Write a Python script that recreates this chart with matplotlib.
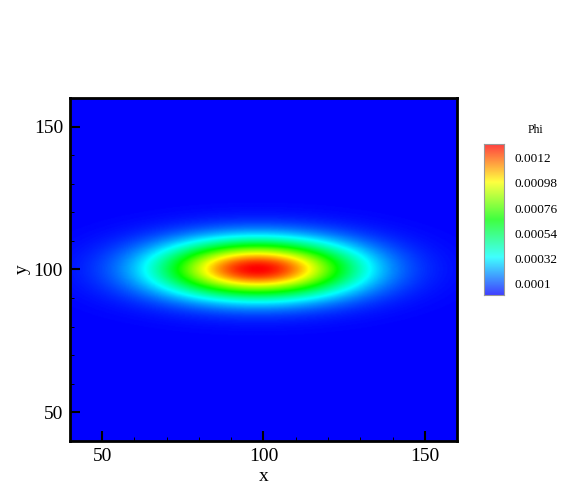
import numpy as np
import matplotlib
matplotlib.use("Agg")
import matplotlib.pyplot as plt
from matplotlib.colors import LinearSegmentedColormap, Normalize

# Field parameters
center_x = 98.0
center_y = 100.0
sigma_x = 21.0
sigma_y = 7.0
peak_phi = 0.00132
phi_min = 0.0
x_range = [40, 160]
y_range = [40, 160]
x_ticks = [50, 100, 150]
y_ticks = [50, 100, 150]
cbar_ticks = [0.0001, 0.00032, 0.00054, 0.00076, 0.00098, 0.0012]
cbar_labels = ["0.0001", "0.00032", "0.00054", "0.00076", "0.00098", "0.0012"]

plt.rcParams['font.family'] = ['Liberation Serif', 'DejaVu Serif']

cmap = LinearSegmentedColormap.from_list(
    "small_rainbow",
    [(0.0, (0, 0, 1)), (0.25, (0, 1, 1)), (0.5, (0, 1, 0)),
     (0.75, (1, 1, 0)), (1.0, (1, 0, 0))])
norm = Normalize(phi_min, peak_phi)

xg = np.linspace(x_range[0], x_range[1], 401)
yg = np.linspace(y_range[0], y_range[1], 401)
X, Y = np.meshgrid(xg, yg)
phi = peak_phi * np.exp(-((X - center_x) ** 2) / (2 * sigma_x ** 2)
                        - ((Y - center_y) ** 2) / (2 * sigma_y ** 2))

fig = plt.figure(figsize=(5.68, 5.04), dpi=100)
ax = fig.add_axes([0.1232, 0.125, 0.6814, 0.6806])
ax.imshow(phi, extent=[x_range[0], x_range[1], y_range[0], y_range[1]],
          origin='lower', cmap=cmap, norm=norm, aspect='auto',
          interpolation='bilinear')
ax.set_xlim(x_range)
ax.set_ylim(y_range)
ax.set_xticks(x_ticks)
ax.set_yticks(y_ticks)
ax.set_xticks(np.arange(60, 160, 10), minor=True)
ax.set_yticks(np.arange(60, 160, 10), minor=True)
ax.tick_params(axis='both', which='major', direction='in', length=7, width=1.5,
               labelsize=14, pad=5, top=False, right=False)
ax.tick_params(axis='both', which='minor', direction='in', length=3, width=0.7,
               top=False, right=False)
for s in ax.spines.values():
    s.set_linewidth(2)
ax.set_xlabel("x", fontsize=14, labelpad=2)
ax.set_ylabel("y", fontsize=14, labelpad=2)

# colorbar
cax = fig.add_axes([0.852, 0.4147, 0.035, 0.2996])
grad = np.linspace(phi_min, peak_phi, 256).reshape(-1, 1)
cax.imshow(grad, extent=[0, 1, phi_min, peak_phi], origin='lower', cmap=cmap,
           norm=norm, aspect='auto', alpha=0.75)
cax.set_xlim(0, 1)
cax.set_ylim(phi_min, peak_phi)
cax.set_xticks([])
cax.yaxis.tick_right()
cax.set_yticks(cbar_ticks)
cax.set_yticklabels(cbar_labels)
cax.tick_params(axis='y', length=0, labelsize=9.5, pad=8)
for s in cax.spines.values():
    s.set_color('#999999')
    s.set_linewidth(0.8)
fig.text(0.942, 0.742, "Phi", fontsize=8.5, ha='center', va='center')

fig.savefig("out.png", dpi=100)
